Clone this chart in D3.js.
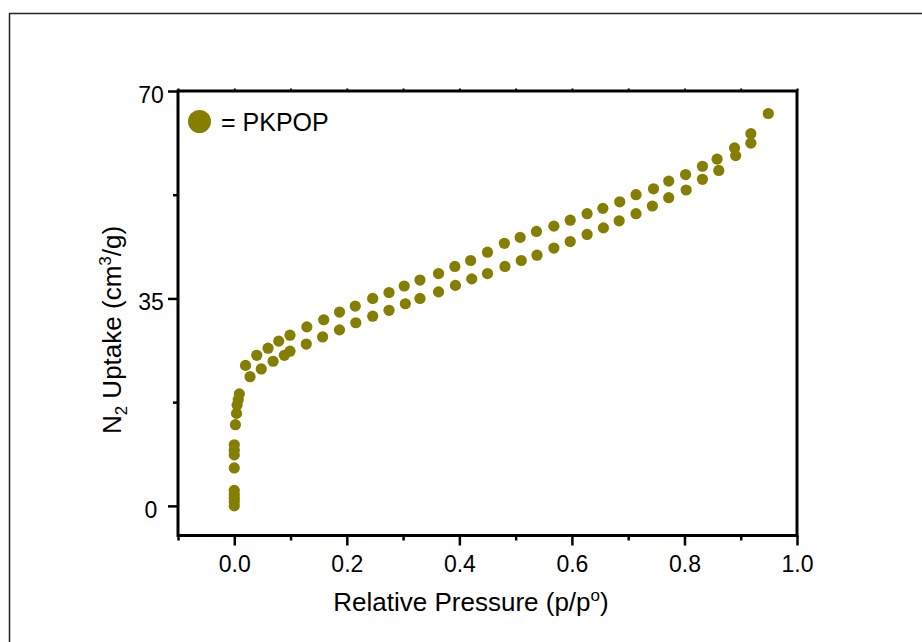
<!DOCTYPE html>
<html>
<head>
<meta charset="utf-8">
<script src="https://cdn.jsdelivr.net/npm/d3@7"></script>
<style>
  body { margin: 0; background: #fff; }
  text { font-family: "Liberation Sans", Arial, sans-serif; fill: #000; }
</style>
</head>
<body>
<svg id="chart"></svg>
<script>
// N2 isotherm of PKPOP (p/p0, cm3/g)
const adsorptionP = [0.000, 0.000, 0.000, 0.000, 0.000, 0.000, 0.000, 0.000, 0.000, 0.002,
    0.004, 0.005, 0.007, 0.009, 0.028, 0.048, 0.069, 0.089, 0.099, 0.128,
    0.157, 0.187, 0.216, 0.246, 0.275, 0.304, 0.330, 0.363, 0.393, 0.422,
    0.450, 0.481, 0.510, 0.538, 0.568, 0.597, 0.627, 0.656, 0.684, 0.714,
    0.743, 0.772, 0.803, 0.832, 0.861, 0.891, 0.918, 0.949];
const adsorptionV = [0.0, 0.7, 1.3, 1.9, 2.6, 6.4, 8.6, 9.4, 10.3, 13.7,
    15.6, 17.0, 17.9, 18.9, 21.8, 23.1, 24.4, 25.4, 26.1, 27.3,
    28.5, 29.7, 30.9, 32.0, 33.0, 34.1, 35.0, 36.1, 37.2, 38.3,
    39.2, 40.4, 41.4, 42.3, 43.5, 44.6, 45.8, 46.9, 48.1, 49.3,
    50.6, 52.0, 53.3, 55.1, 56.6, 59.1, 61.2, 66.2];

const desorptionP = [0.020, 0.040, 0.060, 0.079, 0.099, 0.129, 0.159, 0.187, 0.215, 0.246,
    0.275, 0.302, 0.330, 0.363, 0.392, 0.420, 0.450, 0.480, 0.508, 0.537,
    0.568, 0.597, 0.627, 0.655, 0.685, 0.714, 0.745, 0.772, 0.802, 0.832,
    0.858, 0.889, 0.918];
const desorptionV = [23.7, 25.4, 26.6, 27.8, 28.8, 30.2, 31.4, 32.7, 33.7, 35.0,
    36.0, 37.1, 38.1, 39.2, 40.4, 41.4, 42.8, 44.3, 45.3, 46.3,
    47.2, 48.2, 49.3, 50.2, 51.3, 52.5, 53.5, 54.8, 55.9, 57.3,
    58.5, 60.4, 62.8];

const xMajorTicks = [0, 0.2, 0.4, 0.6, 0.8, 1.0];
const xMinorTicks = [-0.1, 0.1, 0.3, 0.5, 0.7, 0.9];
const yMajorTicks = [0, 35, 70];
const yMinorTicks = [17.5, 52.5];
const seriesName = "PKPOP";

const width = 922;
const height = 642;
const margin = { top: 91, right: 125, bottom: 106.5, left: 178 };
const olive = "#847f00";

const svg = d3.select("#chart")
    .attr("width", width)
    .attr("height", height);

// outer frame, runs off the right and bottom edges
svg.append("rect")
    .attr("x", 9.5)
    .attr("y", 13.5)
    .attr("width", 1000)
    .attr("height", 1000)
    .attr("fill", "none")
    .attr("stroke", "#222")
    .attr("stroke-width", 1.5);

const x = d3.scaleLinear()
    .domain([-0.1, 1.0])
    .range([margin.left, width - margin.right]);

const y = d3.scaleLinear()
    .domain([-5, 70])
    .range([height - margin.bottom, margin.top]);

const bottom = height - margin.bottom;

// bottom axis
svg.append("g")
    .attr("transform", `translate(0,${bottom})`)
    .call(d3.axisBottom(x).tickValues(xMajorTicks).tickSize(10).tickSizeOuter(0)
        .tickPadding(10).tickFormat(d3.format(".1f")))
    .call(g => g.select(".domain").remove())
    .call(g => g.selectAll("line").attr("stroke-width", 2.5))
    .call(g => g.selectAll("text").style("font-size", "23px"));

svg.append("g")
    .attr("transform", `translate(0,${bottom})`)
    .call(d3.axisBottom(x).tickValues(xMinorTicks).tickSize(5).tickFormat(""))
    .call(g => g.select(".domain").remove())
    .call(g => g.selectAll("line").attr("stroke-width", 2.5));

// little mirror ticks on the top edge
svg.append("g")
    .attr("transform", `translate(0,${margin.top})`)
    .call(d3.axisTop(x).tickValues(xMajorTicks.concat(xMinorTicks)).tickSize(2.5).tickFormat(""))
    .call(g => g.select(".domain").remove())
    .call(g => g.selectAll("line").attr("stroke-width", 2));

// left axis
svg.append("g")
    .attr("transform", `translate(${margin.left},0)`)
    .call(d3.axisLeft(y).tickValues(yMajorTicks).tickSize(10).tickSizeOuter(0).tickPadding(16))
    .call(g => g.select(".domain").remove())
    .call(g => g.selectAll("line").attr("stroke-width", 2.5))
    .call(g => g.selectAll("text")
        .attr("text-anchor", "middle")
        .attr("x", -27)
        .attr("dy", "0.5em")
        .style("font-size", "23px"));

svg.append("g")
    .attr("transform", `translate(${margin.left},0)`)
    .call(d3.axisLeft(y).tickValues(yMinorTicks).tickSize(5).tickFormat(""))
    .call(g => g.select(".domain").remove())
    .call(g => g.selectAll("line").attr("stroke-width", 2.5));

// plot box
svg.append("rect")
    .attr("x", margin.left)
    .attr("y", margin.top)
    .attr("width", width - margin.right - margin.left)
    .attr("height", bottom - margin.top)
    .attr("fill", "none")
    .attr("stroke", "#000")
    .attr("stroke-width", 3);

// axis titles
const xTitle = svg.append("text")
    .attr("x", 471)
    .attr("y", 611)
    .attr("text-anchor", "middle")
    .style("font-size", "26px")
    .text("Relative Pressure (p/p");
xTitle.append("tspan").attr("dy", -10).style("font-size", "17px").text("o");
xTitle.append("tspan").attr("dy", 10).text(")");

const yTitle = svg.append("text")
    .attr("transform", "rotate(-90)")
    .attr("x", -330)
    .attr("y", 121)
    .attr("text-anchor", "middle")
    .style("font-size", "26px")
    .text("N");
yTitle.append("tspan").attr("dy", 6).style("font-size", "17px").text("2");
yTitle.append("tspan").attr("dy", -6).text(" Uptake (cm");
yTitle.append("tspan").attr("dy", -10).style("font-size", "17px").text("3");
yTitle.append("tspan").attr("dy", 10).text("/g)");

// points
const points = adsorptionP.map((p, i) => ({ p, v: adsorptionV[i] }))
    .concat(desorptionP.map((p, i) => ({ p, v: desorptionV[i] })));

svg.append("g")
    .selectAll("circle")
    .data(points)
    .enter()
    .append("circle")
    .attr("cx", d => x(d.p))
    .attr("cy", d => y(d.v))
    .attr("r", 5.6)
    .attr("fill", olive);

// legend
svg.append("circle")
    .attr("cx", 199.5)
    .attr("cy", 121.5)
    .attr("r", 11.5)
    .attr("fill", olive);

svg.append("text")
    .attr("x", 221)
    .attr("y", 130.5)
    .style("font-size", "25px")
    .text(`= ${seriesName}`);
</script>
</body>
</html>
